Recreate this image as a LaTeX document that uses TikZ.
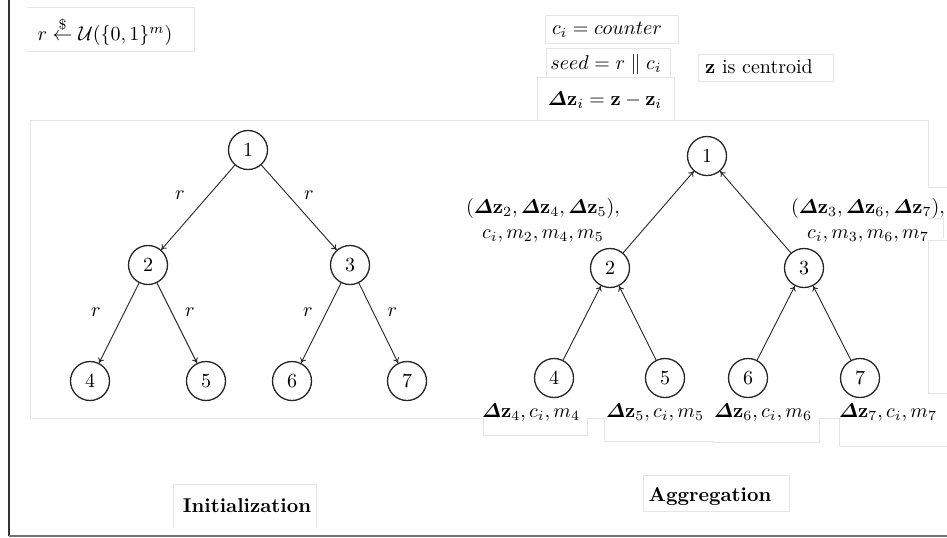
\documentclass[tikz,border=0pt]{standalone}
\usepackage{amsmath,amssymb}
\usetikzlibrary{arrows.meta}
\newcommand{\dZv}{\boldsymbol{\varDelta}\mathbf{z}}
\begin{document}
\begin{tikzpicture}[x=0.5pt,y=-0.5pt,
  tn/.style={circle,draw=black!85,line width=0.65pt,minimum size=19.5pt,inner sep=0pt,font=\fontsize{10}{12}\selectfont},
  arr/.style={draw=black!85,line width=0.45pt,-{To[length=2.5pt,width=3.2pt]}},
  faint/.style={draw=black!10,line width=0.5pt},
  lbl/.style={inner sep=0pt,font=\fontsize{10}{12}\selectfont},
  elbl/.style={inner sep=0pt,font=\fontsize{10}{12}\selectfont}]
\useasboundingbox (0,0) rectangle (947,537);

% faint frame lines (pasted boxes)
\draw[faint] (27,7) -- (194,7) -- (194,51) -- (27,51);
\draw[faint] (30,418) -- (30,120) -- (928,120) -- (928,187) -- (947,187);
\draw[faint] (30,418) -- (483,418) -- (483,435) -- (587,435) -- (587,418) -- (604,418) -- (604,441) -- (713,441) -- (713,442) -- (819,442) -- (819,418) -- (839,418) -- (839,446) -- (947,446);
\draw[faint] (929,218) -- (943,218) -- (943,238);
\draw[faint] (947,240) -- (928,240) -- (928,393) -- (947,393);
\draw[faint] (545,15) rectangle (678,43);
\draw[faint] (546,48) rectangle (670,77);
\draw[faint] (537,77) rectangle (674,120);
\draw[faint] (698,54) rectangle (833,81);
\draw[faint] (173,528) -- (173,484) -- (316,484) -- (316,528);
\draw[faint] (643,475) rectangle (789,511);

% outer frame
\draw[black!80,line width=1pt] (9,0) -- (9,536);
\draw[black!55,line width=1pt] (9,535.5) -- (947,535.5);

% top texts
\node[lbl] (rdef) at (105,31) {$r \overset{\$}{\leftarrow} \mathcal{U}(\{0,1\}^m)$};
\node[lbl] (cdef) at (607,30) {$c_i = counter$};
\node[lbl] (sdef) at (606,64) {$seed = r \parallel c_i$};
\node[lbl] (ddef) at (605,100) {$\dZv_i = \mathbf{z} - \mathbf{z}_i$};
\node[lbl] (zdef) at (759,67) {$\mathbf{z}$ is centroid};

% left tree (initialization)
\node[tn] (a1) at (248,150) {1};
\node[tn] (a2) at (148,265) {2};
\node[tn] (a3) at (350,265) {3};
\node[tn] (a4) at (90,381) {4};
\node[tn] (a5) at (206,381) {5};
\node[tn] (a6) at (292,381) {6};
\node[tn] (a7) at (407,381) {7};
\draw[arr] (a1) -- (a2) node[elbl,midway,xshift=-9pt,yshift=6pt] {$r$};
\draw[arr] (a1) -- (a3) node[elbl,midway,xshift=5pt,yshift=6pt] {$r$};
\draw[arr] (a2) -- (a4) node[elbl,midway,xshift=-11.5pt,yshift=5.5pt] {$r$};
\draw[arr] (a2) -- (a5) node[elbl,midway,xshift=6.5pt,yshift=5.5pt] {$r$};
\draw[arr] (a3) -- (a6) node[elbl,midway,xshift=-6.5pt,yshift=5.5pt] {$r$};
\draw[arr] (a3) -- (a7) node[elbl,midway,xshift=7pt,yshift=5.5pt] {$r$};

% right tree (aggregation)
\node[tn] (b1) at (707,156) {1};
\node[tn] (b2) at (610,268) {2};
\node[tn] (b3) at (804,268) {3};
\node[tn] (b4) at (554,378) {4};
\node[tn] (b5) at (665,378) {5};
\node[tn] (b6) at (748,378) {6};
\node[tn] (b7) at (860,378) {7};
\draw[arr] (b2) -- (b1);
\draw[arr] (b3) -- (b1);
\draw[arr] (b4) -- (b2);
\draw[arr] (b5) -- (b2);
\draw[arr] (b6) -- (b3);
\draw[arr] (b7) -- (b3);

\node[lbl,align=center] (l2) at (543,220.5) {$(\dZv_2, \dZv_4, \dZv_5),$\\[0.5pt]$c_i, m_2, m_4, m_5$};
\node[lbl,align=center] (l3) at (868,220.5) {$(\dZv_3, \dZv_6, \dZv_7),$\\[0.5pt]$c_i, m_3, m_6, m_7$};

\node[lbl] (l4) at (531,413) {$\dZv_4, c_i, m_4$};
\node[lbl] (l5) at (655,413) {$\dZv_5, c_i, m_5$};
\node[lbl] (l6) at (763,413) {$\dZv_6, c_i, m_6$};
\node[lbl] (l7) at (888,413) {$\dZv_7, c_i, m_7$};

% captions
\node[lbl] (cap1) at (247,506) {\textbf{Initialization}};
\node[lbl] (cap2) at (710,497) {\textbf{Aggregation}};
\end{tikzpicture}
\end{document}
